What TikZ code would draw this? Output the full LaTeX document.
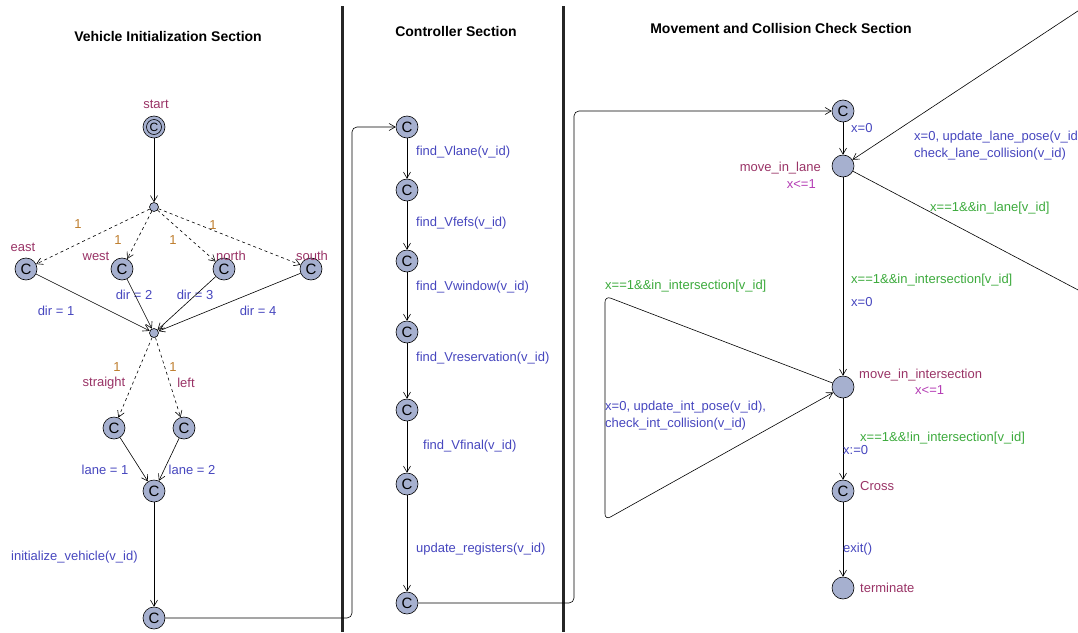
\documentclass[tikz,border=0pt]{standalone}
\usepackage{fontspec}
\setmainfont{Liberation Sans}
\usetikzlibrary{arrows.meta}
\definecolor{nodefill}{RGB}{166,176,207}
\definecolor{lblname}{RGB}{153,51,102}
\definecolor{lblblue}{RGB}{70,70,190}
\definecolor{lblgreen}{RGB}{60,170,60}
\definecolor{lblinv}{RGB}{180,60,180}
\definecolor{lblprob}{RGB}{190,125,45}
\begin{document}
\begin{tikzpicture}[x=1pt,y=-1pt,
  loc/.style={circle, draw=black, fill=nodefill, minimum size=22pt, inner sep=0pt, line width=0.6pt},
  comm/.style={loc, font=\fontsize{15}{15}\selectfont},
  branch/.style={circle, draw=black, fill=nodefill, minimum size=9pt, inner sep=0pt, line width=0.6pt},
  lbl/.style={font=\fontsize{13}{15}\selectfont, inner sep=0pt},
  nm/.style={lbl, text=lblname},
  asg/.style={lbl, text=lblblue},
  grd/.style={lbl, text=lblgreen},
  inv/.style={lbl, text=lblinv},
  prob/.style={lbl, text=lblprob},
  ttl/.style={font=\bfseries\fontsize{14}{16}\selectfont, inner sep=0pt},
  edge/.style={draw=black, line width=0.6pt, -{Straight Barb[length=6pt,width=7pt]}},
  divider/.style={line width=3pt, black!85}]
\useasboundingbox (0,0) rectangle (1078,632);
\clip (0,0) rectangle (1078,632);

% section dividers
\draw[divider] (342,6) -- (342,632);
\draw[divider] (563,6) -- (563,632);

% titles
\node[ttl] (t1) at (168,36) {Vehicle Initialization Section};
\node[ttl] (t2) at (456,31) {Controller Section};
\node[ttl] (t3) at (781,28) {Movement and Collision Check Section};

% ---------------- Vehicle initialization ----------------
\node[comm] (start) at (154,127) {};
\node[circle, draw=black, line width=0.6pt, minimum size=15pt, inner sep=0pt, font=\fontsize{12}{12}\selectfont] (startin) at (154,127) {C};
\node[branch] (b1) at (154,207) {};
\node[comm] (east) at (26,269) {C};
\node[comm] (west) at (122,269) {C};
\node[comm] (north) at (224,269) {C};
\node[comm] (south) at (311,269) {C};
\node[branch] (b2) at (154,333) {};
\node[comm] (str) at (114,428) {C};
\node[comm] (lft) at (184,428) {C};
\node[comm] (lj) at (154,491) {C};
\node[comm] (ini) at (154,618) {C};

\node[nm] (lstart) at (156,104) {start};
\node[nm] (least) at (23,247) {east};
\node[nm] (lwest) at (96,256) {west};
\node[nm] (lnorth) at (231,256) {north};
\node[nm] (lsouth) at (312,256) {south};
\node[prob] (p1) at (78,224) {1};
\node[prob] (p2) at (118,240) {1};
\node[prob] (p3) at (173,240) {1};
\node[prob] (p4) at (213,225) {1};
\node[asg] (d1) at (56,311) {dir = 1};
\node[asg] (d2) at (134,295) {dir = 2};
\node[asg] (d3) at (195,295) {dir = 3};
\node[asg] (d4) at (258,311) {dir = 4};
\node[prob] (p5) at (117,367) {1};
\node[prob] (p6) at (173,367) {1};
\node[nm] (lstr) at (104,383) {straight};
\node[nm] (llft) at (186,383) {left};
\node[asg] (ln1) at (105,470) {lane = 1};
\node[asg] (ln2) at (192,470) {lane = 2};
\node[asg, anchor=west] (linit) at (11,557) {initialize\_vehicle(v\_id)};

\draw[edge] (start) -- (b1);
\draw[edge, dashed] (b1) -- (east);
\draw[edge, dashed] (b1) -- (west);
\draw[edge, dashed] (b1) -- (north);
\draw[edge, dashed] (b1) -- (south);
\draw[edge] (east) -- (b2);
\draw[edge] (west) -- (b2);
\draw[edge] (north) -- (b2);
\draw[edge] (south) -- (b2);
\draw[edge, dashed] (b2) -- (str);
\draw[edge, dashed] (b2) -- (lft);
\draw[edge] (str) -- (lj);
\draw[edge] (lft) -- (lj);
\draw[edge] (lj) -- (ini);

% ---------------- Controller ----------------
\node[comm] (c1) at (407,127) {C};
\node[comm] (c2) at (407,190) {C};
\node[comm] (c3) at (407,261) {C};
\node[comm] (c4) at (407,332) {C};
\node[comm] (c5) at (407,410) {C};
\node[comm] (c6) at (407,484) {C};
\node[comm] (c7) at (407,603) {C};

\node[asg, anchor=west] (f1) at (416,152) {find\_Vlane(v\_id)};
\node[asg, anchor=west] (f2) at (416,223) {find\_Vfefs(v\_id)};
\node[asg, anchor=west] (f3) at (416,287) {find\_Vwindow(v\_id)};
\node[asg, anchor=west] (f4) at (416,358) {find\_Vreservation(v\_id)};
\node[asg, anchor=west] (f5) at (423,446) {find\_Vfinal(v\_id)};
\node[asg, anchor=west] (f6) at (416,549) {update\_registers(v\_id)};

\coordinate (k1) at (352,618);
\coordinate (k2) at (352,127);
\draw[edge, rounded corners=5pt] (ini) -- (k1) -- (k2) -- (c1);
\draw[edge] (c1) -- (c2);
\draw[edge] (c2) -- (c3);
\draw[edge] (c3) -- (c4);
\draw[edge] (c4) -- (c5);
\draw[edge] (c5) -- (c6);
\draw[edge] (c6) -- (c7);

% ---------------- Movement ----------------
\node[comm] (m0) at (843,111) {C};
\node[loc] (mil) at (843,166) {};
\node[loc] (mii) at (843,387) {};
\node[comm] (cross) at (843,491) {C};
\node[loc] (term) at (843,588) {};

\coordinate (k3) at (574,603);
\coordinate (k4) at (574,111);
\draw[edge, rounded corners=5pt] (c7) -- (k3) -- (k4) -- (m0);
\draw[edge] (m0) -- (mil);
\draw[edge] (mil) -- (mii);
\draw[edge] (mii) -- (cross);
\draw[edge] (cross) -- (term);

\coordinate (lp1) at (1190,349);
\coordinate (lp2) at (1190,-63);
\draw[edge, rounded corners=6pt] (mil) -- (lp1) -- (lp2) -- (mil);

\coordinate (ip1) at (605,296);
\coordinate (ip2) at (605,520);
\draw[edge, rounded corners=6pt] (mii) -- (ip1) -- (ip2) -- (mii);

\node[asg, anchor=west] (a1) at (851,128) {x=0};
\node[nm, anchor=east] (lmil) at (821,168) {move\_in\_lane};
\node[inv, anchor=east] (imil) at (816,184) {x<=1};
\node[asg, anchor=west] (a2) at (914,137) {x=0, update\_lane\_pose(v\_id),};
\node[asg, anchor=west] (a3) at (914,154) {check\_lane\_collision(v\_id)};
\node[grd, anchor=west] (g1) at (930,208) {x==1\&\&in\_lane[v\_id]};
\node[grd, anchor=west] (g2) at (851,280) {x==1\&\&in\_intersection[v\_id]};
\node[asg, anchor=west] (a4) at (851,302) {x=0};
\node[grd, anchor=west] (g3) at (605,286) {x==1\&\&in\_intersection[v\_id]};
\node[asg, anchor=west] (a5) at (605,407) {x=0, update\_int\_pose(v\_id),};
\node[asg, anchor=west] (a6) at (605,424) {check\_int\_collision(v\_id)};
\node[nm, anchor=west] (lmii) at (859,375) {move\_in\_intersection};
\node[inv, anchor=west] (imii) at (915,390) {x<=1};
\node[grd, anchor=west] (g4) at (860,438) {x==1\&\&!in\_intersection[v\_id]};
\node[asg, anchor=west] (a7) at (843,450) {x:=0};
\node[nm, anchor=west] (lcross) at (860,486) {Cross};
\node[asg, anchor=west] (a8) at (843,549) {exit()};
\node[nm, anchor=west] (lterm) at (860,588) {terminate};
\end{tikzpicture}
\end{document}
